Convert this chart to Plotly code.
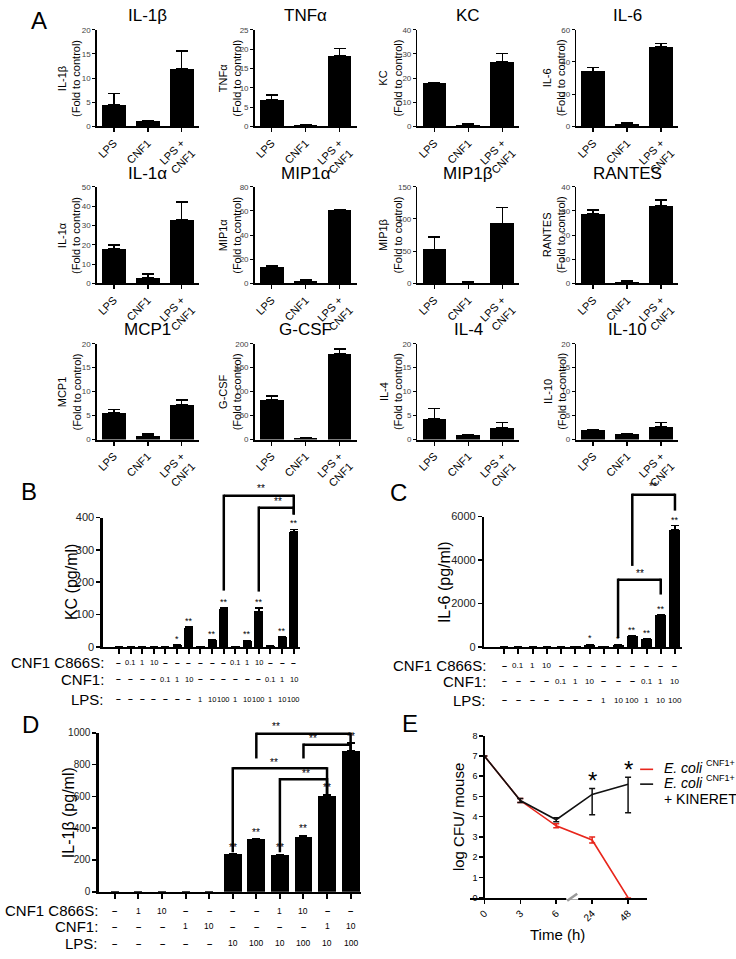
import plotly.graph_objects as go

W, H = 736, 959
FONT = "Liberation Sans, Arial, sans-serif"

# ---------------- Panel A data ----------------
a_names = ["IL-1β", "TNFα", "KC", "IL-6", "IL-1α", "MIP1α", "MIP1β", "RANTES",
           "MCP1", "G-CSF", "IL-4", "IL-10"]
a_groups = ["LPS", "CNF1", "LPS +<br>CNF1"]
il1b = [4.5, 1.1, 11.9];    il1b_err = [2.3, 0.1, 3.7]
tnfa = [6.8, 0.3, 18.3];    tnfa_err = [1.3, 0.05, 1.8]
kc = [17.8, 0.8, 26.8];     kc_err = [0.4, 0.5, 3.4]
il6 = [34.2, 1.3, 49.5];    il6_err = [2.5, 0.9, 1.8]
il1a = [18.0, 2.8, 33.0];   il1a_err = [2.0, 2.2, 9.0]
mip1a = [14.0, 1.8, 61.0];  mip1a_err = [0.4, 1.2, 0.3]
mip1b = [53.0, 1.0, 93.0];  mip1b_err = [19.0, 1.0, 25.0]
rantes = [28.8, 0.7, 32.0]; rantes_err = [1.5, 0.3, 2.6]
mcp1 = [5.6, 0.8, 7.3];     mcp1_err = [0.7, 0.4, 0.9]
gcsf = [82.0, 3.5, 179.0];  gcsf_err = [9.0, 1.0, 10.0]
il4 = [4.3, 0.9, 2.5];      il4_err = [2.2, 0.1, 1.0]
il10 = [1.9, 1.2, 2.7];     il10_err = [0.2, 0.1, 0.8]
a_ymax = [20, 25, 40, 60, 50, 80, 150, 40, 20, 200, 20, 20]
a_dtick = [5, 5, 10, 20, 10, 20, 50, 10, 5, 50, 5, 5]

# ---------------- Panel B data (KC pg/ml) ----------------
b_c866s = ["–", "0.1", "1", "10", "–", "–", "–", "–", "–", "–", "0.1", "1", "10", "–", "–", "–"]
b_cnf1 = ["–", "–", "–", "–", "0.1", "1", "10", "–", "–", "–", "–", "–", "–", "0.1", "1", "10"]
b_lps = ["–", "–", "–", "–", "–", "–", "–", "1", "10", "100", "1", "10", "100", "1", "10", "100"]
b_kc = [0, 0, 0, 0, 0.5, 5, 58, 1.5, 20, 117, 1.5, 18, 110, 2, 30, 355]
b_kc_err = [0, 0, 0, 0, 0, 1, 3, 0, 1, 4, 0, 2, 10, 0, 2, 8]
b_sig = ["", "", "", "", "", "*", "**", "", "**", "**", "", "**", "**", "", "**", "**"]

# ---------------- Panel C data (IL-6 pg/ml) ----------------
c_c866s = ["–", "0.1", "1", "10", "–", "–", "–", "–", "–", "–", "–", "–", "–"]
c_cnf1 = ["–", "–", "–", "–", "0.1", "1", "10", "–", "–", "–", "0.1", "1", "10"]
c_lps = ["–", "–", "–", "–", "–", "–", "–", "1", "10", "100", "1", "10", "100"]
c_il6 = [0, 0, 0, 0, 5, 20, 100, 20, 80, 480, 350, 1450, 5400]
c_il6_err = [0, 0, 0, 0, 0, 0, 10, 0, 10, 30, 20, 30, 180]
c_sig = ["", "", "", "", "", "", "*", "", "*", "**", "**", "**", "**"]

# ---------------- Panel D data (IL-1β pg/ml) ----------------
d_c866s = ["–", "1", "10", "–", "–", "–", "–", "1", "10", "–", "–"]
d_cnf1 = ["–", "–", "–", "1", "10", "–", "–", "–", "–", "1", "10"]
d_lps = ["–", "–", "–", "–", "–", "10", "100", "10", "100", "10", "100"]
d_il1b = [0, 0, 0, 0, 0, 235, 330, 230, 345, 605, 885]
d_il1b_err = [0, 0, 0, 0, 0, 5, 5, 5, 10, 8, 50]
d_sig = ["", "", "", "", "", "**", "**", "**", "**", "**", "**"]

# ---------------- Panel E data ----------------
e_time = ["0", "3", "6", "24", "48"]
e_ecoli = [7.0, 4.8, 3.55, 2.85, 0.0]
e_ecoli_err = [0, 0.1, 0.1, 0.15, 0]
e_kin = [7.0, 4.8, 3.85, 5.1, 5.6]
e_kin_up = [0, 0.1, 0.1, 0.3, 0.35]
e_kin_dn = [0, 0.1, 0.1, 1.0, 1.4]

a_vals = [il1b, tnfa, kc, il6, il1a, mip1a, mip1b, rantes, mcp1, gcsf, il4, il10]
a_errs = [il1b_err, tnfa_err, kc_err, il6_err, il1a_err, mip1a_err, mip1b_err,
          rantes_err, mcp1_err, gcsf_err, il4_err, il10_err]

# ---------------- helpers ----------------
def px(x):
    return x / W


def py(y):
    return 1 - y / H


fig = go.Figure()
layout = {}
annotations = []
shapes = []


def ax_names(n):
    return ("xaxis" if n == 1 else f"xaxis{n}", "yaxis" if n == 1 else f"yaxis{n}",
            "x" if n == 1 else f"x{n}", "y" if n == 1 else f"y{n}")


def cat_px(box, rng, i):
    x0, x1 = box
    return x0 + (i - rng[0]) / (rng[1] - rng[0]) * (x1 - x0)


def line_px(x0, y0, x1, y1, w=2.5, color="black"):
    shapes.append(dict(type="line", xref="paper", yref="paper",
                       x0=px(x0), y0=py(y0), x1=px(x1), y1=py(y1),
                       line=dict(color=color, width=w)))


def text_px(x, y, t, size, xanchor="center", yanchor="middle", angle=0, color="black"):
    annotations.append(dict(xref="paper", yref="paper", x=px(x), y=py(y), text=t,
                            showarrow=False, xanchor=xanchor, yanchor=yanchor,
                            textangle=angle, font=dict(family=FONT, size=size, color=color)))


err_style = dict(type="data", symmetric=False, color="black", thickness=1.5)

# ---------------- Panel A ----------------
col_x = [96, 254, 417, 576]
ytitle_off = [-28, -25, -27, -22]
row_y = [(24, 122), (183, 281), (342, 439)]
title_y = [10, 170, 328]
A_W = 102
for i in range(12):
    n = i + 1
    col, row = i % 4, i // 4
    xa, ya, xr, yr = ax_names(n)
    x0 = col_x[col]
    x1 = x0 + A_W
    y0, y1 = row_y[row]
    fig.add_trace(go.Bar(
        x=[0, 1, 2], y=a_vals[i], width=0.7, xaxis=xr, yaxis=yr,
        marker=dict(color="black", line=dict(width=0)),
        error_y=dict(err_style, array=a_errs[i], arrayminus=[0, 0, 0], width=6),
        showlegend=False))
    layout[xa] = dict(domain=[px(x0), px(x1)], anchor=yr, range=[-0.5, 2.5],
                      tickmode="array", tickvals=[0, 1, 2], ticktext=a_groups,
                      tickangle=-45, showline=True, linewidth=2, linecolor="black",
                      ticks="outside", ticklen=4, tickwidth=1.5, tickcolor="black",
                      tickfont=dict(family=FONT, size=11, color="black"),
                      showgrid=False, zeroline=False, fixedrange=True)
    layout[ya] = dict(domain=[py(y1), py(y0)], anchor=xr, range=[0, a_ymax[i]],
                      dtick=a_dtick[i], tick0=0, showline=True, linewidth=1.5,
                      linecolor="black", ticks="outside", ticklen=3, tickwidth=1,
                      tickcolor="black", tickfont=dict(family=FONT, size=8, color="#444"),
                      showgrid=False, zeroline=False, fixedrange=True)
    text_px((x0 + x1) / 2, title_y[row], a_names[i], 17)
    text_px(x0 + ytitle_off[col], (y0 + y1) / 2, a_names[i] + "<br>(Fold to control)", 11,
            angle=-90)

text_px(38, 15, "A", 24)


# ---------------- bar panels B, C, D ----------------
def bar_panel(n, xbox, ybox, xrng, yrng, dtick, vals, errs, sig, rows, rows_y, name_x,
              val_size, name_size, ytitle, ytitle_x, tick_size, bar_w, star_size):
    xa, ya, xr, yr = ax_names(n)
    idx = list(range(len(vals)))
    fig.add_trace(go.Bar(
        x=idx, y=vals, width=bar_w, xaxis=xr, yaxis=yr,
        marker=dict(color="black", line=dict(width=0)),
        error_y=dict(err_style, array=errs, arrayminus=[0] * len(vals), width=4),
        showlegend=False))
    layout[xa] = dict(domain=[px(xbox[0]), px(xbox[1])], anchor=yr, range=list(xrng),
                      tickmode="array", tickvals=idx, showticklabels=False,
                      showline=True, linewidth=2.5, linecolor="black",
                      ticks="outside", ticklen=5, tickwidth=2, tickcolor="black",
                      showgrid=False, zeroline=False, fixedrange=True)
    layout[ya] = dict(domain=[py(ybox[1]), py(ybox[0])], anchor=xr, range=list(yrng),
                      dtick=dtick, tick0=0, showline=True, linewidth=2.5, linecolor="black",
                      ticks="outside", ticklen=4, tickwidth=1.5, tickcolor="black",
                      tickfont=dict(family=FONT, size=tick_size, color="#222"),
                      showgrid=False, zeroline=False, fixedrange=True)
    for i, s in enumerate(sig):
        if s:
            annotations.append(dict(xref=xr, yref=yr, x=i, y=vals[i] + errs[i], text=s,
                                    showarrow=False, yanchor="bottom", yshift=-1,
                                    font=dict(family=FONT, size=star_size, color="black")))
    names = ["CNF1 C866S:", "CNF1:", "LPS:"]
    for r, (labels, yy) in enumerate(zip(rows, rows_y)):
        text_px(name_x, yy, names[r], name_size, xanchor="right")
        for i, t in enumerate(labels):
            xx = cat_px(xbox, xrng, i)
            if t == "–":
                text_px(xx, yy, "<b>–</b>", val_size + 1)
            else:
                text_px(xx, yy, t, val_size)
    text_px(ytitle_x, (ybox[0] + ybox[1]) / 2, ytitle, 16, angle=-90)


def bracket(box, rng, li, ri, top, lb, rb, lx, ly):
    xl, xrp = cat_px(box, rng, li), cat_px(box, rng, ri)
    line_px(xl, top, xrp, top)
    line_px(xl, top - 1.2, xl, lb)
    line_px(xrp, top - 1.2, xrp, rb)
    text_px(lx, ly, "**", 10)


# Panel B
B_X, B_Y, B_XR, B_YR = (102, 299), (518, 649), (-1.37, 15.5), (0, 400)
bar_panel(13, B_X, B_Y, B_XR, B_YR, 100, b_kc, b_kc_err, b_sig,
          [b_c866s, b_cnf1, b_lps], [665, 682, 702], 105, 7.5, 15,
          "KC (pg/ml)", 70, 11, 0.77, 9)
text_px(28, 492, "B", 24)
bracket(B_X, B_XR, 9, 15, 496, 592, 515, 260, 489)
bracket(B_X, B_XR, 12, 15, 508, 593, 515, 277, 502)

# Panel C
C_X, C_Y, C_XR, C_YR = (484, 682), (517, 649), (-1.4, 12.5), (0, 6000)
bar_panel(14, C_X, C_Y, C_XR, C_YR, 2000, c_il6, c_il6_err, c_sig,
          [c_c866s, c_cnf1, c_lps], [668, 684, 703], 488, 8, 15,
          "IL-6 (pg/ml)", 444, 11, 0.77, 9)
text_px(398, 493, "C", 24)
bracket(C_X, C_XR, 8, 11, 581, 640, 596, 640, 575)
bracket(C_X, C_XR, 9, 12, 495, 567, 511, 653, 487)

# Panel D
D_X, D_Y, D_XR, D_YR = (98, 360), (736, 897), (-0.68, 10.42), (0, 1000)
bar_panel(15, D_X, D_Y, D_XR, D_YR, 200, d_il1b, d_il1b_err, d_sig,
          [d_c866s, d_cnf1, d_lps], [916, 932, 949], 99, 8.5, 15,
          "IL-1β (pg/ml)", 67, 10, 0.76, 10)
text_px(30, 728, "D", 24)
bracket(D_X, D_XR, 6, 10, 737, 762, 772, 275, 730)
bracket(D_X, D_XR, 8, 10, 748, 762, 772, 312, 742)
bracket(D_X, D_XR, 5, 9, 772, 857, 807, 273, 766)
bracket(D_X, D_XR, 7, 9, 783, 857, 807, 305, 777)

# ---------------- Panel E ----------------
E_X, E_Y, E_XR, E_YR = (470, 647), (739, 903), (-0.39, 4.53), (0, 8)
xa, ya, xr, yr = ax_names(16)
eidx = list(range(len(e_time)))
fig.add_trace(go.Scatter(
    x=eidx, y=e_ecoli, mode="lines", xaxis=xr, yaxis=yr, showlegend=False,
    line=dict(color="#e8261c", width=1.6),
    error_y=dict(type="data", array=e_ecoli_err, color="#e8261c", thickness=1.5, width=3)))
fig.add_trace(go.Scatter(
    x=eidx, y=e_kin, mode="lines", xaxis=xr, yaxis=yr, showlegend=False,
    line=dict(color="#111", width=1.6),
    error_y=dict(type="data", symmetric=False, array=e_kin_up, arrayminus=e_kin_dn,
                 color="#111", thickness=1.5, width=3)))
layout[xa] = dict(domain=[px(E_X[0]), px(E_X[1])], anchor=yr, range=list(E_XR),
                  tickmode="array", tickvals=eidx, ticktext=e_time, tickangle=-45,
                  showline=True, linewidth=2, linecolor="black",
                  ticks="outside", ticklen=4, tickwidth=1.5, tickcolor="black",
                  tickfont=dict(family=FONT, size=10, color="black"),
                  showgrid=False, zeroline=False, fixedrange=True)
layout[ya] = dict(domain=[py(E_Y[1]), py(E_Y[0])], anchor="free", position=px(484),
                  range=list(E_YR), dtick=1, tick0=0, showline=True, linewidth=2,
                  linecolor="black", ticks="outside", ticklen=4, tickwidth=1.5,
                  tickcolor="black", tickfont=dict(family=FONT, size=9, color="black"),
                  showgrid=False, zeroline=False, fixedrange=True)
# axis break mark
shapes.append(dict(type="rect", xref="paper", yref="paper", x0=px(566), x1=px(578),
                   y0=py(905), y1=py(901), fillcolor="white", line=dict(width=0)))
line_px(567, 906, 577, 899, w=2.5, color="#999")
for i in (3, 4):
    annotations.append(dict(xref=xr, yref=yr, x=i, y=e_kin[i] + e_kin_up[i], text="*",
                            showarrow=False, yanchor="bottom", yshift=-8,
                            font=dict(family=FONT, size=24, color="black")))
text_px(410, 727, "E", 24)
text_px(557, 940, "Time (h)", 15)
text_px(458, 821, "log CFU/ mouse", 15, angle=-90)
line_px(640, 773, 653, 773, w=1.6, color="#e8261c")
line_px(640, 788, 653, 788, w=1.6, color="#111")
for yy in (772, 787):
    text_px(662, yy, "<i>E. coli</i>", 14, xanchor="left")
    text_px(704, yy - 5, "CNF1+", 9, xanchor="left")
text_px(662, 803, "+ KINERET", 14, xanchor="left")

fig.update_layout(
    width=W, height=H, margin=dict(l=0, r=0, t=0, b=0),
    paper_bgcolor="white", plot_bgcolor="white",
    font=dict(family=FONT, color="black"),
    showlegend=False, bargap=0, hovermode=False,
    annotations=annotations, shapes=shapes, **layout)

fig.write_html("out.html", config={"displayModeBar": False, "staticPlot": True},
               post_script="document.body.style.margin='0';document.body.style.overflow='hidden';")
